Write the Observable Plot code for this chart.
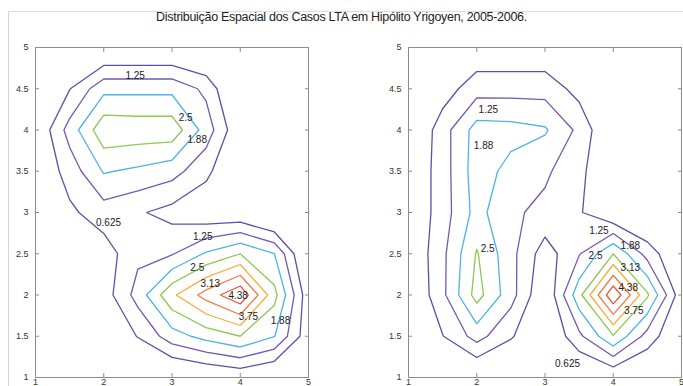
<!DOCTYPE html>
<html><head><meta charset="utf-8">
<script src="https://cdn.jsdelivr.net/npm/d3@7"></script>
<script src="https://cdn.jsdelivr.net/npm/@observablehq/plot@0.6"></script>
<style>
body{margin:0;width:683px;height:386px;overflow:hidden;background:#fff;position:relative;font-family:"Liberation Sans",Arial,sans-serif}
#frame{position:absolute;left:8px;top:11px;width:690px;height:400px;border-left:1px solid #d6d6d6;border-top:1px solid #dedede}
#title{position:absolute;left:0;top:10px;width:683px;text-align:center;font-size:12.5px;color:#222;letter-spacing:-0.3px}
#p1{position:absolute;left:0;top:0}
#p2{position:absolute;left:340px;top:0}
</style></head>
<body>
<div id="frame"></div>
<div id="title">Distribuição Espacial dos Casos LTA em Hipólito Yrigoyen, 2005-2006.</div>
<div id="p1"></div>
<div id="p2"></div>
<script>
// contour levels and tick values
const levels = [0.625, 1.25, 1.875, 2.5, 3.125, 3.75, 4.375];
const levelColors = ["#5f4ea6", "#7656b2", "#4fb3e8", "#8cc84e", "#f5ae3a", "#f27a45", "#e8573a"];
const xTicks = [1, 2, 3, 4, 5];
const yTicks = [1, 1.5, 2, 2.5, 3, 3.5, 4, 4.5, 5];
const gridX = [1, 1.5, 2, 2.5, 3, 3.5, 4, 4.5, 5];
const gridY = [5, 4.5, 4, 3.5, 3, 2.5, 2, 1.5, 1]; // row order below (top to bottom)

// estimated surface values, left panel (rows y=5 ... y=1, columns x=1 ... 5)
const leftGrid = [
  [-0.5, -0.4, -0.2, -0.2, -0.2, -0.4, -0.5, -0.5, -0.5],
  [-0.3,  0.6,  1.7,  1.7,  1.7,  1.1, -0.4, -0.5, -0.5],
  [ 0.0,  1.5,  2.95, 2.9,  2.9,  1.6,  0.05,-0.1, -0.1],
  [ 0.0,  0.9,  1.93, 1.75, 1.5,  0.8, -0.2, -0.3, -0.3],
  [-0.1,  0.5,  0.96, 0.7,  0.4,  0.1,  0.05,-0.5, -0.3],
  [-0.2,  0.0,  0.3,  1.1,  1.2,  1.95, 2.5,  1.88,-0.3],
  [-0.2,  0.0,  0.3,  1.5,  3.0,  4.0,  4.9,  2.7,  0.2],
  [-0.1, -0.1,  0.1,  0.65, 1.6,  2.1,  2.5,  1.9,  0.2],
  [-0.2, -0.2, -0.2, -0.2, -0.3, -0.1,  0.1, -0.2, -0.1]
];
// right panel
const rightGrid = [
  [-0.3, -0.3,  0.1,  0.1,  0.1, -0.3, -0.3, -0.3, -0.3],
  [-0.3,  0.3,  1.0,  1.0,  1.0,  0.4, -0.3, -0.3, -0.3],
  [-0.18, 0.97, 2.14, 2.1,  1.95, 1.1, -0.15,-0.3, -0.3],
  [ 0.0,  0.95, 2.2,  1.67, 1.35, 0.85,-0.25,-0.3, -0.3],
  [ 0.0,  0.95, 2.1,  1.35, 1.1,  0.7, -0.05,-0.3, -0.3],
  [ 0.0,  1.1,  2.55, 1.45, 0.3,  1.2,  2.5,  1.0, -0.1],
  [-0.1,  1.1,  2.75, 1.5,  0.0,  2.3,  4.9,  2.6,  0.2],
  [-0.2,  0.6,  1.5,  0.7, -0.1,  1.1,  2.45, 1.0, -0.1],
  [-0.3, -0.3, -0.2, -0.3, -0.3, -0.2,  0.0, -0.2, -0.3]
];

// contour labels
const leftLabelText = ["1.25", "2.5", "1.88", "0.625", "1.25", "2.5", "3.13", "4.38", "3.75", "1.88"];
const leftLabelX    = [2.46, 3.2, 3.37, 2.07, 3.45, 3.37, 3.56, 3.97, 4.12, 4.59];
const leftLabelY    = [4.66, 4.15, 3.88, 2.88, 2.70, 2.33, 2.13, 1.99, 1.73, 1.69];
const rightLabelText = ["1.25", "1.88", "2.5", "1.25", "1.88", "2.5", "3.13", "4.38", "3.75", "0.625"];
const rightLabelX    = [2.17, 2.1, 2.16, 3.79, 4.25, 3.74, 4.25, 4.22, 4.3, 3.33];
const rightLabelY    = [4.24, 3.81, 2.56, 2.78, 2.6, 2.48, 2.33, 2.09, 1.81, 1.17];

const fmt = d3.format("~g");

function panel(grid, lt, lx, ly, width, ml, mr) {
  const flat = grid.slice().reverse().flat(); // first row -> y = 1
  const labels = lt.map((t, i) => ({t, x: lx[i], y: ly[i]}));
  const step = gridX[1] - gridX[0];
  return Plot.plot({
    width, height: 400,
    marginLeft: ml, marginRight: mr, marginTop: 47, marginBottom: 23,
    x: {domain: [1, 5]},
    y: {domain: [1, 5]},
    color: {type: "ordinal", domain: levels, range: levelColors},
    style: {fontFamily: "'Liberation Sans', Arial, sans-serif", fontSize: "9px", color: "#333", background: "transparent"},
    marks: [
      Plot.contour(flat, {
        value: Plot.identity, width: gridX.length, height: gridY.length,
        x1: gridX[0] - step / 2, x2: gridX[gridX.length - 1] + step / 2,
        y1: gridY[gridY.length - 1] - step / 2, y2: gridY[0] + step / 2,
        thresholds: levels, stroke: "value", fill: "none", strokeWidth: 1.3, clip: true
      }),
      Plot.frame({stroke: "#8c8c8c"}),
      Plot.axisX({anchor: "bottom", ticks: xTicks, tickFormat: fmt, tickSize: -4, tickPadding: 5, label: null, stroke: "#8c8c8c", fill: "#333"}),
      Plot.axisX({anchor: "top", ticks: xTicks, tickSize: -4, tickFormat: () => "", label: null, stroke: "#8c8c8c"}),
      Plot.axisY({anchor: "left", ticks: yTicks, tickFormat: fmt, tickSize: -4, tickPadding: 11, label: null, stroke: "#8c8c8c", fill: "#333"}),
      Plot.axisY({anchor: "right", ticks: yTicks, tickSize: -4, tickFormat: () => "", label: null, stroke: "#8c8c8c"}),
      Plot.text(labels, {x: "x", y: "y", text: "t", fill: "#222", fontSize: 10})
    ]
  });
}

document.getElementById("p1").append(panel(leftGrid, leftLabelText, leftLabelX, leftLabelY, 340, 35, 32));
document.getElementById("p2").append(panel(rightGrid, rightLabelText, rightLabelX, rightLabelY, 343, 68, 2));
</script>
</body></html>
